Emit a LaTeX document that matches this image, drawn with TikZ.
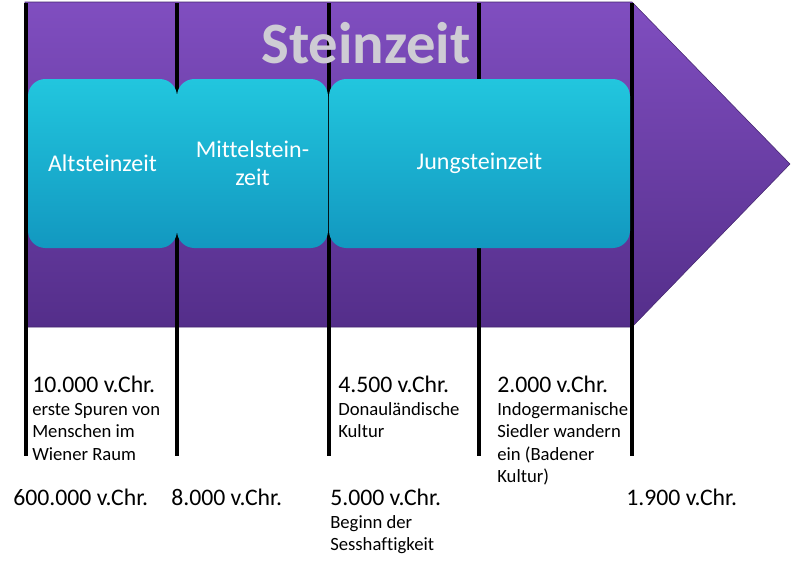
\documentclass[tikz,border=0pt]{standalone}
\usepackage{fontspec}
\setmainfont{Carlito}[Ligatures=NoCommon]
\def\px{0.75pt}
\def\linetop{3}
\def\linebot{456}
\def\daterow{392}
\def\notegap{7.2}
\definecolor{violettop}{RGB}{128,78,192}
\definecolor{violetbot}{RGB}{84,46,138}
\definecolor{cyantop}{RGB}{34,198,222}
\definecolor{cyanbot}{RGB}{18,152,192}
\definecolor{silver}{RGB}{206,204,212}
\tikzset{
    divider/.style={line width=2.6pt, black},
    title/.style={font=\bfseries\fontsize{44}{50}\selectfont, text=silver, inner sep=0pt},
    phasebox/.style={rounded corners=13pt, top color=cyantop, bottom color=cyanbot,
        minimum height=169*\px, inner sep=0pt, align=center, text=white,
        font=\fontsize{18}{21}\selectfont},
    datetext/.style={inner sep=0pt, font=\fontsize{17.8}{20}\selectfont},
    notetext/.style={inner sep=0pt, align=left, font=\fontsize{14}{16.9}\selectfont},
}
\newcommand{\divider}[2]{
    \coordinate (#1top) at (#2,\linetop);
    \coordinate (#1bot) at (#2,\linebot);
    \draw[divider] (#1top) -- (#1bot);
}
\newcommand{\phasebox}[4]{
    \node[phasebox, minimum width=(#3-#2)*\px] (#1) at ({(#2+#3)/2},163.5) {#4};
}
\newcommand{\when}[5][]{
    \node[datetext, anchor=base west] (#2) at (#3,#4) {#5};
    \if\relax\detokenize{#1}\relax\else
        \node[notetext, anchor=north west] (#2note) at (#3,#4+\notegap) {\strut#1};
    \fi
}

\begin{document}
\begin{tikzpicture}[x=\px, y=-\px]
    \useasboundingbox (0,0) rectangle (799,569);
    \shade[top color=violettop, bottom color=violetbot, draw=violetbot!80!black, line width=0.4pt]
        (25,2) -- (632,2) -- (790,164) -- (632,327) -- (25,327) -- cycle;
    \divider{d1}{26}
    \divider{d2}{177}
    \divider{d3}{329}
    \divider{d4}{479}
    \divider{d5}{632}
    \node[title, anchor=base] (title) at (366,63) {Steinzeit};
    \phasebox{alt}{28}{177}{Altsteinzeit}
    \phasebox{mittel}{177}{328}{Mittelstein-\\zeit}
    \phasebox{jung}{329}{630}{Jungsteinzeit}
    \when[erste Spuren von\\Menschen im\\Wiener Raum]{y10000}{32}{\daterow}{10.000 v.Chr.}
    \when[Donauländische\\Kultur]{y4500}{338}{\daterow}{4.500 v.Chr.}
    \when[Indogermanische\\Siedler wandern\\ein (Badener\\Kultur)]{y2000}{497}{\daterow}{2.000 v.Chr.}
    \when{y600000}{13}{505}{600.000 v.Chr.}
    \when{y8000}{171}{505}{8.000 v.Chr.}
    \when[Beginn der\\Sesshaftigkeit]{y5000}{330}{505}{5.000 v.Chr.}
    \when{y1900}{626}{505}{1.900 v.Chr.}
\end{tikzpicture}
\end{document}
